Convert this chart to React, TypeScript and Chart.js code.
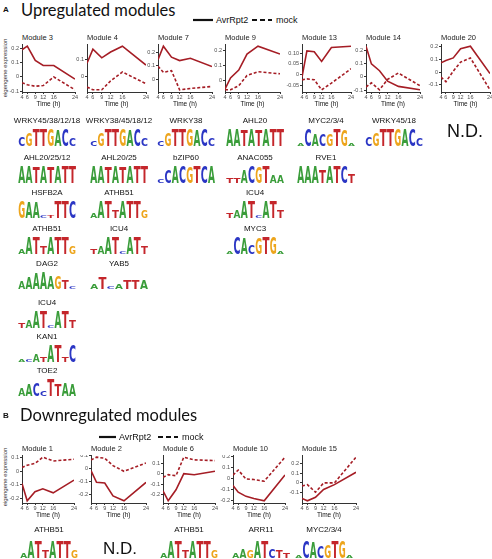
import React, { useEffect, useRef } from 'react';
import { Chart, registerables } from 'chart.js';
Chart.register(...registerables);

// ---------- data ----------
const TIMES = [4, 6, 9, 12, 16, 24];
const TIME_LABELS = ['4', '6', '9', '12', '16', '24'];

const upModules = ['Module 3', 'Module 4', 'Module 7', 'Module 9', 'Module 13', 'Module 14', 'Module 20'];
const upAvr = [
  [0.19, 0.215, 0.115, 0.08, 0.08, -0.015],
  [0.079, 0.166, 0.113, 0.149, 0.185, 0.068],
  [0.145, 0.245, 0.163, 0.138, 0.155, 0.093],
  [-0.058, 0.016, 0.068, 0.174, 0.226, 0.174],
  [-0.012, 0.11, 0.106, 0.061, 0.126, 0.132],
  [0.235, 0.1, 0.048, -0.032, -0.072, -0.098],
  [0.074, 0.093, 0.113, 0.186, 0.206, -0.011],
];
const upMock = [
  [-0.04, -0.055, -0.065, -0.06, 0.0, -0.09],
  [-0.068, -0.085, -0.085, -0.03, 0.025, -0.047],
  [0.095, 0.05, 0.063, -0.08, -0.07, -0.055],
  [-0.063, -0.063, -0.036, 0.032, 0.057, 0.043],
  [-0.025, -0.02, -0.024, -0.071, -0.04, 0.027],
  [-0.077, -0.045, -0.098, -0.018, 0.03, -0.067],
  [-0.039, -0.076, 0.008, 0.08, 0.113, -0.14],
];
const upYTicks = [
  [-0.1, 0, 0.1, 0.2],
  [0, 0.1],
  [0, 0.1, 0.2],
  [0, 0.1, 0.2],
  [-0.05, 0, 0.05, 0.1],
  [-0.1, 0, 0.1, 0.2],
  [-0.1, 0, 0.1, 0.2],
];
const upYLabels = [
  ['-0.1', '0', '0.1', '0.2'],
  ['0', '0.1'],
  ['0', '0.1', '0.2'],
  ['0', '0.1', '0.2'],
  ['-0.05', '0', '0.05', '0.10'],
  ['-0.1', '0', '0.1', '0.2'],
  ['-0.1', '0', '0.1', '0.2'],
];

const downModules = ['Module 1', 'Module 2', 'Module 6', 'Module 10', 'Module 15'];
const downAvr = [
  [-0.089, -0.217, -0.15, -0.128, -0.158, -0.064],
  [-0.018, -0.107, -0.112, -0.21, -0.247, -0.107],
  [-0.165, -0.262, -0.155, 0.0, -0.01, 0.023],
  [-0.062, -0.123, -0.16, -0.18, -0.2, 0.03],
  [-0.16, -0.185, -0.149, -0.068, -0.018, 0.11],
];
const downMock = [
  [0.028, 0.046, 0.059, 0.105, 0.077, 0.09],
  [0.063, 0.084, 0.076, 0.02, -0.023, 0.04],
  [-0.035, -0.01, -0.02, 0.159, 0.133, 0.126],
  [0.03, 0.075, -0.005, -0.01, -0.025, 0.19],
  [-0.032, -0.018, -0.096, 0.0, 0.0, 0.266],
];
const downYTicks = [
  [-0.2, -0.1, 0, 0.1],
  [-0.2, -0.1, 0, 0.1],
  [-0.2, -0.1, 0, 0.1],
  [-0.2, -0.1, 0, 0.1, 0.2],
  [-0.1, 0, 0.1, 0.2],
];
const downYLabels = [
  ['-0.2', '-0.1', '0', '0.1'],
  ['-0.2', '-0.1', '0', '0.1'],
  ['-0.2', '-0.1', '0', '0.1'],
  ['-0.2', '-0.1', '0', '0.1', '0.2'],
  ['-0.1', '0', '0.1', '0.2'],
];

// motif names / logos (letter + height 1..9) per column of section A
const upMotifNames = [
  ['WRKY45/38/12/18', 'AHL20/25/12', 'HSFB2A', 'ATHB51', 'DAG2', 'ICU4', 'KAN1', 'TOE2'],
  ['WRKY38/45/18/12', 'AHL20/25', 'ATHB51', 'ICU4', 'YAB5'],
  ['WRKY38', 'bZIP60'],
  ['AHL20', 'ANAC055', 'ICU4', 'MYC3'],
  ['MYC2/3/4', 'RVE1'],
  ['WRKY45/18'],
];
const upMotifLogos = [
  ['C5G7T9T9G9A8C9C4', 'A9A9T8A9T8A9T9T9', 'G9A8A8C1T1T9T9C9', 'A3A9T9T4A9T9T9G4', 'A4A6A8A9A7G7T5C1', 'T3A4A9T9C1A9T9T4', 'A1C1A4T3A9T9T3C9', 'A4A6C7C3T9T6A7A6'],
  ['C3G7T9T9G9A8C9C4', 'A9A9T8A9T8A9T9T9', 'A3A9T9T4A9T9T9G4', 'T3A4A9T9C1A9T9T4', 'A3T6C1A3T5T5A5'],
  ['C3G7T9T9G9A8C9C4', 'C2C7A9C9G8T9C9A9'],
  ['A9A9T8A9T8A9T9T9', 'T3T3A7C9G8T9A4A4', 'T3A4A9T9C1A9T9T4', 'A1C9A8C5G8T9G9A1'],
  ['A1C9A6C6G6T9G8A1', 'A9A9A9T7A9T9C9T5'],
  ['C5G7T9T9G9A9C9C4'],
];
const downMotifNames = ['ATHB51', 'N.D.', 'ATHB51', 'ARR11', 'MYC2/3/4'];
const downMotifLogos = ['A3A9T9T4A9T9T9G4', '', 'A3A9T9T4A9T9T9G4', 'A3A5G4A9T9C5T4T3', 'A1C9A8C6G7T9G9A1'];

// ---------- layout ----------
const FONT = '"Liberation Sans", Arial, sans-serif';
const LOGO_FONT = '"DejaVu Sans", "Liberation Sans", sans-serif';
const RED = '#A51D25';
const upAxisX = [22, 87, 158, 225, 302, 366, 441];
const upRight = [75, 146, 212, 280, 351, 420, 490];
const downAxisX = [22, 91, 163, 233, 302];
const downRight = [74, 146, 215, 285, 356];
const upColX = [47, 119, 186, 255, 326, 394];
const upRowY = [121, 158, 193, 229, 264, 303, 337, 371];
const downColX = [49, 120, 189, 261, 324];

const YW = 20;
const XH = 17;
const PADR = 7;

function ModulePanel(props: {
  title: string; avr: number[]; mock: number[]; yTicks: number[]; yLabels: string[];
  axisX: number; right: number; plotTop: number; plotBottom: number;
}) {
  const { title, avr, mock, yTicks, yLabels, axisX, right, plotTop, plotBottom } = props;
  const ref = useRef<HTMLCanvasElement>(null);
  const w = YW + (right - axisX) + PADR;
  const h = plotBottom - plotTop + XH;
  useEffect(() => {
    const all = [...avr, ...mock];
    const lo = Math.min(...all);
    const hi = Math.max(...all);
    const ex = (hi - lo) * 0.05;
    const tickFont = { size: 5.5, family: FONT };
    const chart = new Chart(ref.current!, {
      type: 'line',
      data: {
        datasets: [
          {
            data: TIMES.map((t, i) => ({ x: t, y: avr[i] })),
            borderColor: RED, borderWidth: 1.6, pointRadius: 0, tension: 0, fill: false,
          },
          {
            data: TIMES.map((t, i) => ({ x: t, y: mock[i] })),
            borderColor: RED, borderWidth: 1.6, borderDash: [3, 2], pointRadius: 0, tension: 0, fill: false,
          },
        ],
      },
      options: {
        animation: false,
        responsive: false,
        maintainAspectRatio: false,
        layout: { padding: { left: 0, right: PADR, top: 0, bottom: 0 } },
        plugins: { legend: { display: false }, tooltip: { enabled: false }, title: { display: false } },
        scales: {
          x: {
            type: 'linear', min: 4, max: 24, bounds: 'data',
            afterBuildTicks: (s: any) => { s.ticks = TIMES.map((v) => ({ value: v })); },
            afterFit: (s: any) => { s.height = XH; s.paddingLeft = 0; s.paddingRight = 0; },
            ticks: {
              font: tickFont, color: '#4d4d4d', padding: 0.5, maxRotation: 0, minRotation: 0, autoSkip: false,
              callback: (v: any) => TIME_LABELS[TIMES.indexOf(v)],
            },
            grid: { display: true, drawOnChartArea: false, drawTicks: true, tickLength: 2, color: '#333' },
            border: { display: true, color: '#333', width: 1 },
            title: { display: true, text: 'Time (h)', color: '#111', font: { size: 6.5, family: FONT }, padding: { top: 0, bottom: 1 } },
          },
          y: {
            type: 'linear', min: lo - ex, max: hi + ex, bounds: 'data',
            afterBuildTicks: (s: any) => { s.ticks = yTicks.map((v) => ({ value: v })); },
            afterFit: (s: any) => { s.width = YW; s.paddingTop = 0; s.paddingBottom = 0; },
            ticks: {
              font: tickFont, color: '#4d4d4d', padding: 1, autoSkip: false,
              callback: (v: any) => yLabels[yTicks.indexOf(v)],
            },
            grid: { display: true, drawOnChartArea: false, drawTicks: true, tickLength: 2, color: '#333' },
            border: { display: true, color: '#333', width: 1 },
          },
        },
      } as any,
    });
    return () => chart.destroy();
  }, []);
  return (
    <>
      <canvas ref={ref} width={w} height={h}
        style={{ position: 'absolute', left: axisX - YW, top: plotTop, width: w, height: h }} />
      <div style={{ position: 'absolute', left: axisX, top: plotTop - 11, fontSize: 7.5, lineHeight: '9px', color: '#222', whiteSpace: 'nowrap', fontFamily: FONT }}>{title}</div>
    </>
  );
}

const LOGO_COLORS: Record<string, string> = { A: '#3a9d3a', C: '#2b36c4', G: '#eda51c', T: '#c4262b' };

function Logo({ code, cx, bottom, w = 58, h = 17 }: { code: string; cx: number; bottom: number; w?: number; h?: number }) {
  const items: { ch: string; f: number }[] = [];
  for (let i = 0; i + 1 < code.length; i += 2) items.push({ ch: code[i], f: Number(code[i + 1]) });
  const cw = w / items.length;
  return (
    <svg width={w} height={h} style={{ position: 'absolute', left: cx - w / 2, top: bottom - h, overflow: 'visible' }}>
      {items.map((it, i) => (
        <text key={i} fontFamily={LOGO_FONT} fontWeight="bold" fontSize={20} fill={LOGO_COLORS[it.ch]}
          textLength={cw * 0.96} lengthAdjust="spacingAndGlyphs"
          transform={`translate(${i * cw + cw * 0.02},${h}) scale(1,${((it.f / 9) * h) / 14.6})`}>{it.ch}</text>
      ))}
    </svg>
  );
}

function Label({ text, x, y, size, center = false, color = '#111', family = FONT, weight = 'normal' }: any) {
  return (
    <div style={{
      position: 'absolute', left: x, top: y, transform: center ? 'translate(-50%,-50%)' : 'translateY(-50%)',
      fontSize: size, lineHeight: 1, whiteSpace: 'nowrap', color, fontFamily: family, fontWeight: weight,
    }}>{text}</div>
  );
}

function LegendKey({ x, y, w, dashed }: { x: number; y: number; w: number; dashed: boolean }) {
  return (
    <svg width={w} height={4} style={{ position: 'absolute', left: x, top: y - 2 }}>
      <line x1={0} y1={2} x2={w} y2={2} stroke="#111" strokeWidth={2.2} strokeDasharray={dashed ? '5,3' : undefined} />
    </svg>
  );
}

export default function App() {
  return (
    <div style={{ position: 'absolute', left: 0, top: 0, width: 492, height: 559, overflow: 'hidden', background: '#fff', fontFamily: FONT }}>
      {/* Section A */}
      <Label text="A" x={3} y={10} size={8} weight="bold" />
      <Label text="Upregulated modules" x={21} y={10} size={16.5} family='Lato, "Open Sans", sans-serif' />
      <LegendKey x={193} y={20} w={20} dashed={false} />
      <Label text="AvrRpt2" x={216} y={20} size={9} />
      <LegendKey x={252} y={20} w={20} dashed={true} />
      <Label text="mock" x={276} y={20} size={9} />
      <div style={{ position: 'absolute', left: 5, top: 68, transform: 'translate(-50%,-50%) rotate(-90deg)', fontSize: 6, color: '#333', whiteSpace: 'nowrap' }}>eigengene expression</div>
      {upModules.map((m, i) => (
        <ModulePanel key={m} title={m} avr={upAvr[i]} mock={upMock[i]} yTicks={upYTicks[i]} yLabels={upYLabels[i]}
          axisX={upAxisX[i]} right={upRight[i]} plotTop={44} plotBottom={92} />
      ))}
      {upMotifNames.map((col, c) => col.map((name, r) => (
        <React.Fragment key={`${c}-${r}`}>
          <Label text={name} x={upColX[c]} y={upRowY[r]} size={8} center />
          <Logo code={upMotifLogos[c][r]} cx={upColX[c]} bottom={upRowY[r] + 25} />
        </React.Fragment>
      )))}
      <Label text="N.D." x={465} y={131} size={18} center />

      {/* Section B */}
      <Label text="B" x={3} y={416} size={8} weight="bold" />
      <Label text="Downregulated modules" x={20} y={415} size={16.5} family='Lato, "Open Sans", sans-serif' />
      <LegendKey x={99} y={437} w={17} dashed={false} />
      <Label text="AvrRpt2" x={119} y={437} size={9} />
      <LegendKey x={158} y={437} w={20} dashed={true} />
      <Label text="mock" x={182} y={437} size={9} />
      <div style={{ position: 'absolute', left: 5, top: 477, transform: 'translate(-50%,-50%) rotate(-90deg)', fontSize: 6, color: '#333', whiteSpace: 'nowrap' }}>eigengene expression</div>
      {downModules.map((m, i) => (
        <ModulePanel key={m} title={m} avr={downAvr[i]} mock={downMock[i]} yTicks={downYTicks[i]} yLabels={downYLabels[i]}
          axisX={downAxisX[i]} right={downRight[i]} plotTop={455} plotBottom={503} />
      ))}
      {downMotifNames.map((name, c) => name === 'N.D.' ? (
        <Label key={c} text="N.D." x={downColX[c]} y={548} size={17} center />
      ) : (
        <React.Fragment key={c}>
          <Label text={name} x={downColX[c]} y={530} size={8} center />
          <Logo code={downMotifLogos[c]} cx={downColX[c]} bottom={558} />
        </React.Fragment>
      ))}
    </div>
  );
}
